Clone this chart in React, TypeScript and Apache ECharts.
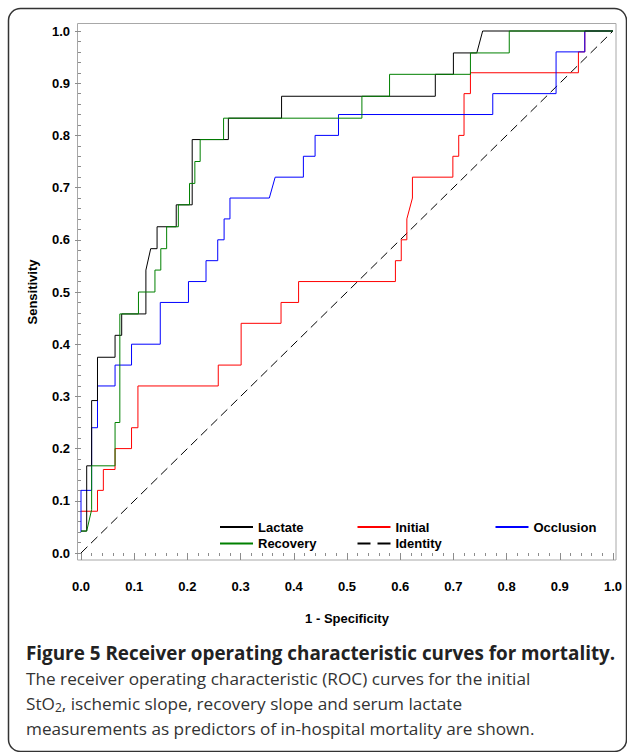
import React, { useEffect, useRef } from "react";
import * as echarts from "echarts";

const lactateX = [0, 0.0107, 0.0107, 0.02, 0.02, 0.031, 0.031, 0.064, 0.064, 0.0765, 0.0765, 0.122, 0.122, 0.131, 0.143, 0.143, 0.179, 0.179, 0.209, 0.209, 0.277, 0.277, 0.377, 0.377, 0.666, 0.666, 0.70, 0.70, 0.744, 0.755, 1.0];
const lactateY = [0.042, 0.042, 0.167, 0.167, 0.292, 0.292, 0.375, 0.375, 0.417, 0.417, 0.458, 0.458, 0.542, 0.583, 0.583, 0.625, 0.625, 0.667, 0.667, 0.792, 0.792, 0.833, 0.833, 0.875, 0.875, 0.917, 0.917, 0.958, 0.958, 1.0, 1.0];

const recoveryX = [0, 0.0107, 0.02, 0.02, 0.064, 0.064, 0.073, 0.073, 0.108, 0.108, 0.139, 0.139, 0.15, 0.15, 0.161, 0.161, 0.183, 0.183, 0.204, 0.204, 0.214, 0.214, 0.224, 0.224, 0.268, 0.268, 0.528, 0.528, 0.58, 0.58, 0.732, 0.732, 0.805, 0.805, 1.0];
const recoveryY = [0.042, 0.042, 0.083, 0.167, 0.167, 0.25, 0.25, 0.458, 0.458, 0.5, 0.5, 0.542, 0.542, 0.583, 0.583, 0.625, 0.625, 0.667, 0.667, 0.708, 0.708, 0.75, 0.75, 0.792, 0.792, 0.833, 0.833, 0.875, 0.875, 0.917, 0.917, 0.958, 0.958, 1.0, 1.0];

const initialX = [0, 0.031, 0.031, 0.042, 0.042, 0.064, 0.064, 0.095, 0.095, 0.107, 0.107, 0.258, 0.258, 0.301, 0.301, 0.376, 0.376, 0.409, 0.409, 0.591, 0.591, 0.602, 0.602, 0.6125, 0.6125, 0.623, 0.623, 0.699, 0.699, 0.71, 0.71, 0.72, 0.72, 0.732, 0.732, 0.935, 0.935, 0.947, 0.947, 1.0];
const initialY = [0.08, 0.08, 0.12, 0.12, 0.16, 0.16, 0.20, 0.20, 0.24, 0.24, 0.32, 0.32, 0.36, 0.36, 0.44, 0.44, 0.48, 0.48, 0.52, 0.52, 0.56, 0.56, 0.60, 0.60, 0.64, 0.68, 0.72, 0.72, 0.76, 0.76, 0.80, 0.80, 0.88, 0.88, 0.92, 0.92, 0.96, 0.96, 1.0, 1.0];

const occlusionX = [0, 0, 0.02, 0.02, 0.031, 0.031, 0.064, 0.064, 0.095, 0.095, 0.149, 0.149, 0.202, 0.202, 0.235, 0.235, 0.257, 0.257, 0.269, 0.269, 0.28, 0.28, 0.354, 0.365, 0.418, 0.418, 0.44, 0.44, 0.484, 0.484, 0.774, 0.774, 0.893, 0.893, 0.947, 0.947, 1.0];
const occlusionY = [0.04, 0.12, 0.12, 0.24, 0.24, 0.32, 0.32, 0.36, 0.36, 0.40, 0.40, 0.48, 0.48, 0.52, 0.52, 0.56, 0.56, 0.60, 0.60, 0.64, 0.64, 0.68, 0.68, 0.72, 0.72, 0.76, 0.76, 0.80, 0.80, 0.84, 0.84, 0.88, 0.88, 0.96, 0.96, 1.0, 1.0];

const identityX = [0, 1];
const identityY = [0, 1];

const captionTitle = "Figure 5 Receiver operating characteristic curves for mortality.";
const captionLine2 = "The receiver operating characteristic (ROC) curves for the initial";
const captionLine3a = "StO";
const captionLine3b = "2";
const captionLine3c = ", ischemic slope, recovery slope and serum lactate";
const captionLine4 = "measurements as predictors of in-hospital mortality are shown.";

const zip = (xs: number[], ys: number[]) => xs.map((x, i) => [x, ys[i]]);

const AXIS_FONT = '"Liberation Sans", Arial, sans-serif';
const CAP_FONT = '"Open Sans", "Noto Sans", sans-serif';

export default function App() {
  const ref = useRef<HTMLDivElement>(null);
  useEffect(() => {
    if (!ref.current) return;
    const chart = echarts.init(ref.current, null, { renderer: "svg" });
    const tickGray = "#8c8c8c";
    const lineSeries = (name: string, data: number[][], color: string, type: any = "solid") => ({
      name,
      type: "line",
      data,
      showSymbol: false,
      symbol: "none",
      clip: false,
      lineStyle: { color, width: 1, type },
      itemStyle: { color },
      emphasis: { disabled: true },
    });
    const legendCommon = {
      orient: "vertical",
      padding: 0,
      itemWidth: 33,
      itemHeight: 14,
      itemGap: 3.6,
      itemStyle: { opacity: 0 },
      textStyle: { fontFamily: AXIS_FONT, fontWeight: "bold", fontSize: 13, color: "#000" },
      selectedMode: false,
    };
    chart.setOption({
      animation: false,
      backgroundColor: "#fff",
      grid: { left: 81, top: 31, width: 532, height: 522, containLabel: false },
      xAxis: {
        type: "value",
        min: 0,
        max: 1,
        interval: 0.1,
        offset: 7,
        name: "1 - Specificity",
        nameLocation: "middle",
        nameGap: 52,
        nameTextStyle: { fontFamily: AXIS_FONT, fontWeight: "bold", fontSize: 13, color: "#000" },
        axisLine: { show: false },
        axisTick: { show: true, length: 7, lineStyle: { color: tickGray } },
        minorTick: { show: true, splitNumber: 5, length: 3, lineStyle: { color: tickGray } },
        splitLine: { show: false },
        axisLabel: {
          margin: 20,
          fontFamily: AXIS_FONT,
          fontWeight: "bold",
          fontSize: 13,
          color: "#000",
          formatter: (v: number) => v.toFixed(1),
        },
      },
      yAxis: {
        type: "value",
        min: 0,
        max: 1,
        interval: 0.1,
        offset: 4,
        name: "Sensitivity",
        nameLocation: "middle",
        nameGap: 38,
        nameTextStyle: { fontFamily: AXIS_FONT, fontWeight: "bold", fontSize: 13, color: "#000" },
        axisLine: { show: false },
        axisTick: { show: true, length: 6, lineStyle: { color: tickGray } },
        minorTick: { show: true, splitNumber: 5, length: 3, lineStyle: { color: tickGray } },
        splitLine: { show: false },
        axisLabel: {
          margin: 7,
          fontFamily: AXIS_FONT,
          fontWeight: "bold",
          fontSize: 13,
          color: "#000",
          formatter: (v: number) => v.toFixed(1),
        },
      },
      legend: [
        { ...legendCommon, left: 219, top: 520.5, data: ["Lactate", "Recovery"] },
        {
          ...legendCommon,
          left: 356.5,
          top: 520.5,
          data: ["Initial", { name: "Identity", lineStyle: { type: [13, 7] } }],
        },
        { ...legendCommon, left: 494.5, top: 520.5, data: ["Occlusion"] },
      ],
      series: [
        lineSeries("Identity", zip(identityX, identityY), "#000", [9, 5]),
        lineSeries("Initial", zip(initialX, initialY), "#ff0000"),
        lineSeries("Occlusion", zip(occlusionX, occlusionY), "#0000ff"),
        lineSeries("Lactate", zip(lactateX, lactateY), "#000000"),
        lineSeries("Recovery", zip(recoveryX, recoveryY), "#008000"),
      ],
      graphic: [
        {
          type: "rect",
          silent: true,
          z: -1,
          shape: { x: 8.5, y: 8.5, width: 618, height: 743, r: 12 },
          style: { fill: "none", stroke: "#333", lineWidth: 1.5 },
        },
        {
          type: "rect",
          silent: true,
          shape: { x: 77.5, y: 23.5, width: 538.5, height: 536.5 },
          style: { fill: "none", stroke: "#a8a8a8", lineWidth: 1 },
        },
        {
          type: "text",
          x: 26,
          y: 653,
          style: {
            text: captionTitle,
            font: `bold 18.85px ${CAP_FONT}`,
            fill: "#222",
            verticalAlign: "middle",
          },
        },
        {
          type: "text",
          x: 26,
          y: 678,
          style: {
            text: captionLine2,
            font: `17.2px ${CAP_FONT}`,
            fill: "#333",
            verticalAlign: "middle",
          },
        },
        {
          type: "text",
          x: 26,
          y: 703,
          style: {
            text: `{n|${captionLine3a}}{sub|${captionLine3b}}{n|${captionLine3c}}`,
            verticalAlign: "middle",
            rich: {
              n: { fontFamily: CAP_FONT, fontSize: 17.2, fill: "#333", color: "#333" },
              sub: { fontFamily: CAP_FONT, fontSize: 12, fill: "#333", color: "#333", padding: [9, 0, 0, 0] },
            },
          },
        },
        {
          type: "text",
          x: 26,
          y: 728,
          style: {
            text: captionLine4,
            font: `17.2px ${CAP_FONT}`,
            fill: "#333",
            verticalAlign: "middle",
          },
        },
      ],
    });
    return () => chart.dispose();
  }, []);
  return <div ref={ref} style={{ position: "absolute", left: 0, top: 0, width: 627, height: 752 }} />;
}
